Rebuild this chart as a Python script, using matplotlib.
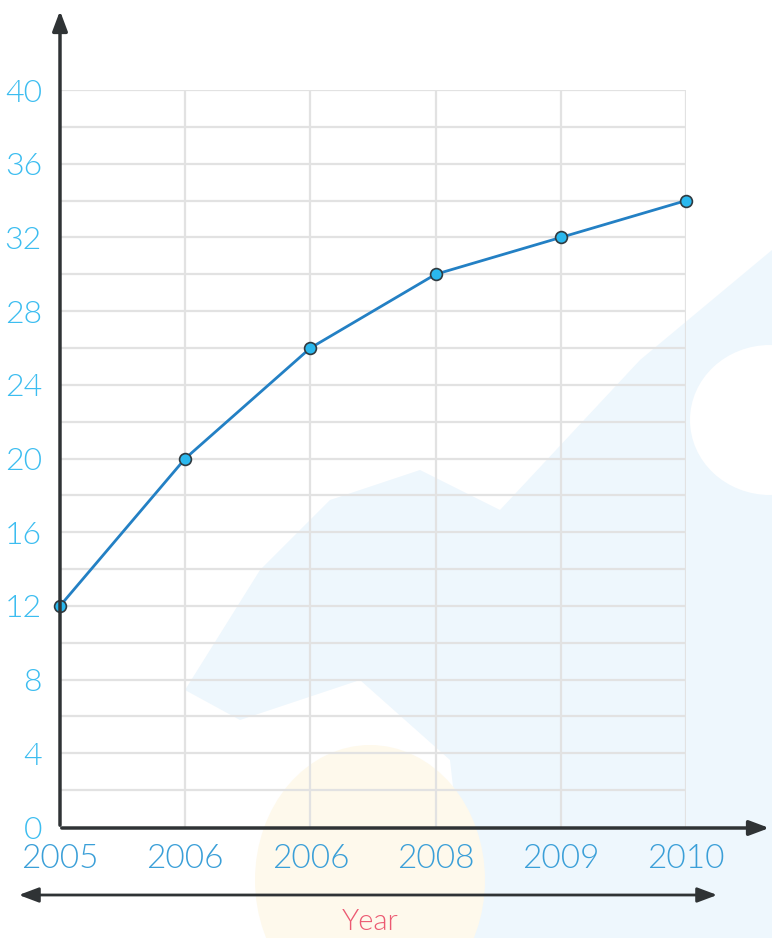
import matplotlib.pyplot as plt
from matplotlib.patches import Polygon, Ellipse

# data
years = ['2005', '2006', '2006', '2008', '2009', '2010']
values = [12, 20, 26, 30, 32, 34]
y_ticks = list(range(0, 41, 4))

fig = plt.figure(figsize=(7.72, 9.38), dpi=100)
plt.rcParams['font.family'] = ['Lato', 'DejaVu Sans']

# faint watermark shapes in the background
bg = fig.add_axes([0, 0, 1, 1], zorder=0)
bg.set_xlim(0, 772)
bg.set_ylim(938, 0)
bg.axis('off')
bg.add_patch(Polygon([(185, 690), (260, 570), (330, 500), (420, 470), (500, 510),
                      (640, 360), (772, 250), (772, 938), (470, 938), (450, 760),
                      (360, 680), (240, 720)], closed=True, color='#eef7fd', lw=0))
bg.add_patch(Ellipse((770, 420), 160, 150, color='white', lw=0))
bg.add_patch(Ellipse((370, 880), 230, 270, color='#fef9ec', lw=0))

ax = fig.add_axes([0.0777, 0.1183, 0.8109, 0.7857], zorder=1)
ax.patch.set_alpha(0)
x = list(range(len(years)))

# grid
for yv in range(2, 41, 2):
    ax.plot([0, 5], [yv, yv], color='#e2e2e2', lw=1.6, zorder=1)
for xv in x[1:]:
    ax.plot([xv, xv], [0, 40], color='#e2e2e2', lw=1.6, zorder=1)

ax.plot(x, values, color='#2380c4', lw=2, marker='o', markersize=8.5,
        markerfacecolor='#2ab8ee', markeredgecolor='#2f3a40', markeredgewidth=1.2,
        zorder=3, clip_on=False)

ax.set_xlim(0, 5)
ax.set_ylim(0, 40)
for s in ax.spines.values():
    s.set_visible(False)
ax.tick_params(length=0)
ax.set_yticks(y_ticks)
ax.set_yticklabels([str(v) for v in y_ticks], color='#3cbdf0', fontsize=23,
                   fontweight=300)
ax.tick_params(axis='y', pad=13)
ax.set_xticks(x)
ax.set_xticklabels(years, color='#3a9fd8', fontsize=24, fontweight=300)
ax.tick_params(axis='x', pad=12)

# axis arrows
arrow = dict(arrowstyle='-|>,head_length=1.2,head_width=0.45', color='#2f3335', lw=2.5)
ax.annotate('', xy=(60 / 772, 1 - 8 / 938), xytext=(60 / 772, 1 - 828 / 938),
            xycoords='figure fraction', textcoords='figure fraction', arrowprops=arrow)
ax.annotate('', xy=(772 / 772, 1 - 828 / 938), xytext=(59 / 772, 1 - 828 / 938),
            xycoords='figure fraction', textcoords='figure fraction', arrowprops=arrow)

# Year double arrow
darrow = dict(arrowstyle='<|-|>,head_length=1.2,head_width=0.45', color='#2f3335', lw=2)
ax.annotate('', xy=(720 / 772, 1 - 895 / 938), xytext=(16 / 772, 1 - 895 / 938),
            xycoords='figure fraction', textcoords='figure fraction', arrowprops=darrow)
fig.text(370 / 772, 1 - 922 / 938, 'Year', color='#ec5a72', fontsize=21,
         fontweight=300, ha='center', va='center')

fig.savefig('out.png', dpi=100)
